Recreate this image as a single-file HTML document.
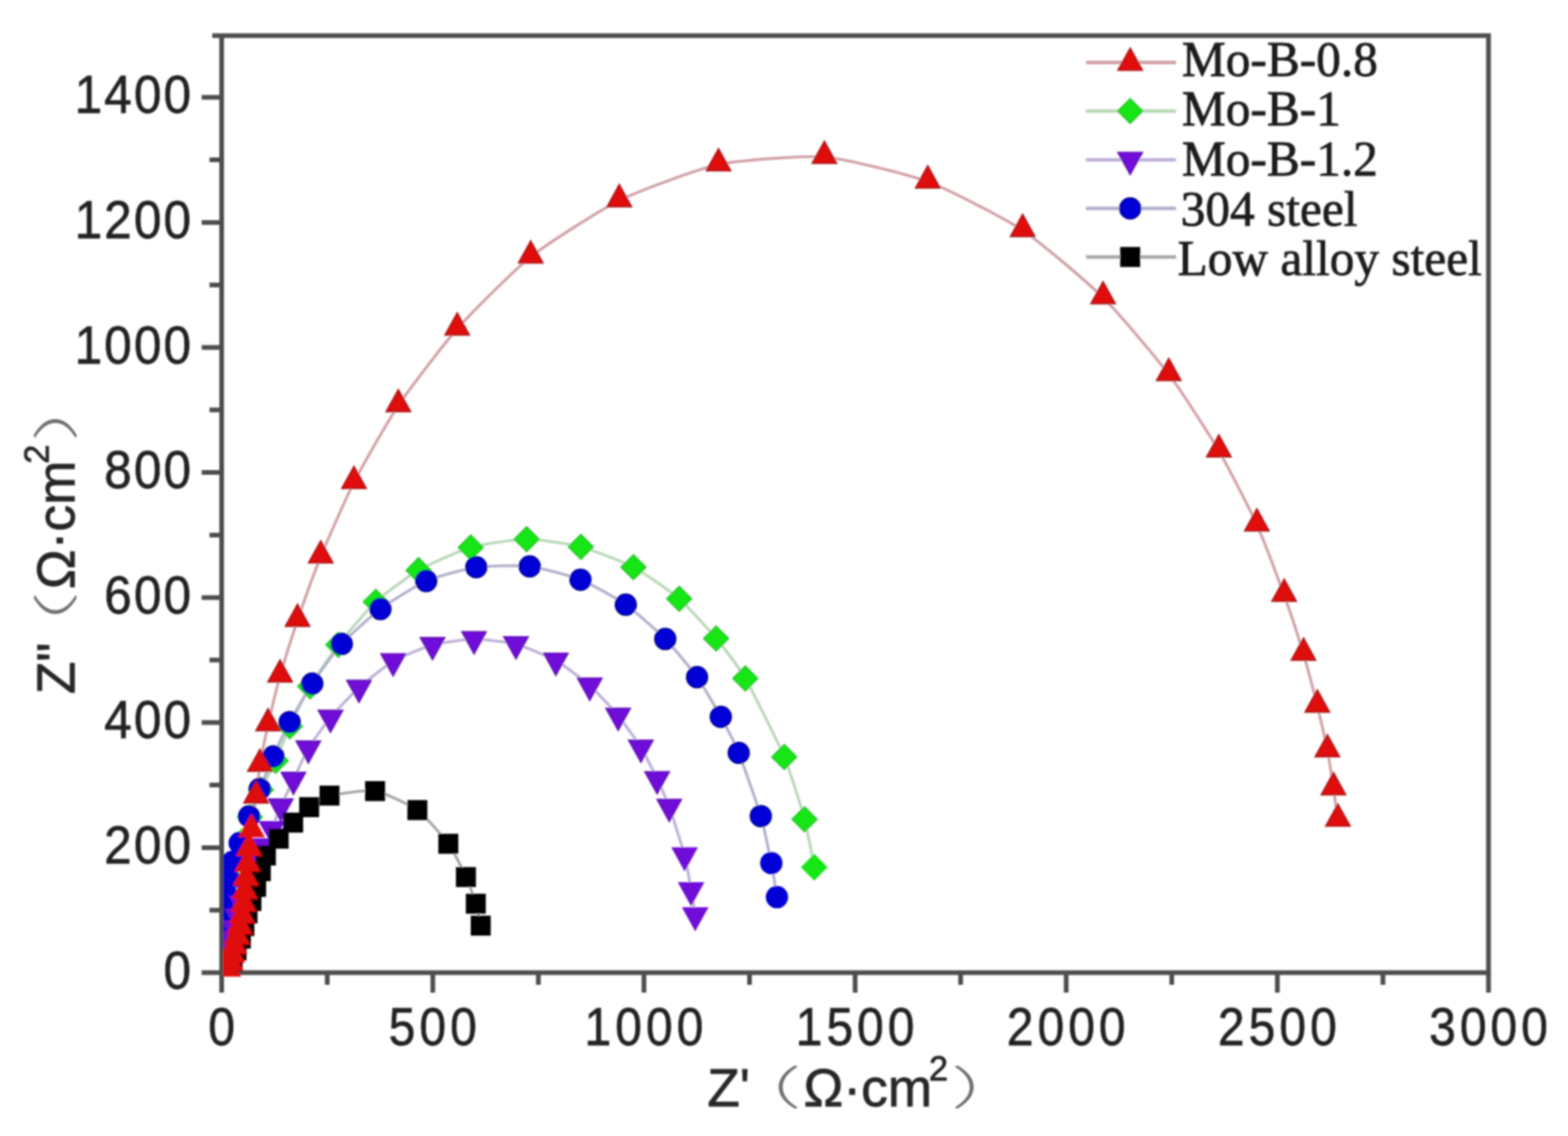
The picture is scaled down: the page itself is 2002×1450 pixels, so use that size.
<!DOCTYPE html>
<html><head><meta charset="utf-8"><title>Nyquist plot</title>
<style>html,body{margin:0;padding:0;background:#fff;width:2002px;height:1450px;overflow:hidden}svg{display:block}</style>
</head><body><svg width="2002" height="1450" viewBox="0 0 2002 1450"><defs><clipPath id="pc"><rect x="285.0" y="0" width="2002" height="1246.5"/></clipPath><filter id="bl" x="0" y="0" width="2002" height="1450" filterUnits="userSpaceOnUse"><feGaussianBlur stdDeviation="1.3"/></filter></defs><rect x="0" y="0" width="2002" height="1450" fill="#fff"/><g filter="url(#bl)"><path d="M283.0 1241.5H1900.5V45.5H271.0M283.0 43.5V1241.5" fill="none" stroke="#4d4d4d" stroke-width="6"/><path d="M257.5 1241.5H283.0M267.5 1161.7H283.0M257.5 1081.9H283.0M267.5 1002.1H283.0M257.5 922.3H283.0M267.5 842.5H283.0M257.5 762.7H283.0M267.5 682.9H283.0M257.5 603.1H283.0M267.5 523.3H283.0M257.5 443.5H283.0M267.5 363.7H283.0M257.5 283.9H283.0M267.5 204.1H283.0M257.5 124.3H283.0M283.0 1241.5V1267.0M417.8 1241.5V1257.0M552.6 1241.5V1267.0M687.4 1241.5V1257.0M822.2 1241.5V1267.0M957.0 1241.5V1257.0M1091.8 1241.5V1267.0M1226.5 1241.5V1257.0M1361.3 1241.5V1267.0M1496.1 1241.5V1257.0M1630.9 1241.5V1267.0M1765.7 1241.5V1257.0M1900.5 1241.5V1267.0" stroke="#4d4d4d" stroke-width="6" fill="none"/><g clip-path="url(#pc)"><path d="M285.0 1225.0C285.1 1223.3 286.1 1211.7 286.5 1208.0C286.9 1204.3 288.1 1192.2 288.5 1188.0C288.9 1183.8 290.4 1170.4 291.0 1166.0C291.6 1161.6 293.4 1148.4 294.0 1144.0C294.6 1139.6 296.7 1126.5 297.5 1122.0C298.3 1117.5 300.9 1103.8 302.0 1099.0C303.1 1094.2 307.3 1079.6 309.0 1074.0C310.7 1068.4 316.6 1049.6 319.0 1043.0C321.4 1036.4 329.7 1015.2 333.0 1008.0C336.3 1000.8 348.3 979.1 352.0 971.0C355.7 962.9 365.6 936.5 370.0 927.0C374.4 917.5 389.8 886.4 396.0 876.0C402.2 865.6 423.6 833.8 432.0 823.0C440.4 812.2 469.6 777.7 479.8 768.2C490.0 758.7 522.3 734.9 534.4 727.9C546.5 720.9 587.2 702.7 601.0 698.7C614.8 694.7 658.3 688.4 672.4 688.3C686.5 688.2 728.0 694.4 741.6 698.0C755.2 701.6 796.2 717.4 808.8 724.0C821.4 730.6 856.7 755.2 867.2 764.3C877.8 773.4 905.9 804.8 914.3 815.0C922.7 825.2 942.9 850.9 951.6 866.0C960.3 881.1 993.7 948.2 1001.3 966.2C1008.9 984.2 1023.4 1031.7 1027.2 1045.8C1031.0 1059.9 1038.4 1100.8 1039.6 1106.9" fill="none" stroke="#b8d8b8" stroke-width="3.6" stroke-linejoin="round"/><path d="M283.0 1222.0C283.1 1220.3 283.3 1208.7 283.5 1205.0C283.7 1201.3 284.6 1189.2 285.0 1185.0C285.4 1180.8 286.6 1167.3 287.0 1163.0C287.4 1158.7 288.9 1146.1 289.5 1142.0C290.1 1137.9 291.8 1126.2 292.5 1122.0C293.2 1117.8 295.6 1104.6 297.0 1100.0C298.4 1095.4 303.9 1081.8 306.0 1076.0C308.1 1070.2 315.4 1048.9 318.0 1042.0C320.6 1035.1 328.5 1014.6 331.6 1007.0C334.7 999.4 345.2 974.0 349.0 965.5C352.8 957.0 364.8 931.0 369.8 921.7C374.8 912.4 392.0 882.5 398.7 872.5C405.4 862.5 427.7 831.3 436.4 821.8C445.1 812.3 474.9 785.3 485.7 777.3C496.5 769.3 532.0 746.9 544.2 741.6C556.4 736.3 594.9 725.9 608.1 724.0C621.3 722.1 663.0 721.4 676.3 723.0C689.6 724.6 728.9 735.1 741.2 740.0C753.5 744.9 788.2 764.2 799.0 771.8C809.8 779.4 840.3 806.4 849.4 815.6C858.5 824.9 882.9 854.4 890.0 864.3C897.1 874.2 915.0 905.3 920.3 915.0C925.6 924.7 938.1 948.3 943.2 961.0C948.3 973.7 967.2 1027.6 971.4 1041.7C975.6 1055.8 982.7 1091.4 984.8 1101.7C986.9 1112.0 991.3 1140.8 992.0 1145.1" fill="none" stroke="#b0b0cc" stroke-width="3.6" stroke-linejoin="round"/><path d="M291.0 1221.2C291.2 1220.2 292.5 1212.5 293.0 1210.2C293.5 1208.0 295.3 1200.8 296.0 1198.2C296.7 1195.8 299.2 1188.0 300.0 1185.2C300.8 1182.5 303.1 1173.5 304.0 1170.2C304.9 1167.0 307.9 1156.8 309.0 1153.2C310.1 1149.8 313.7 1138.8 315.0 1135.2C316.3 1131.7 320.5 1120.8 322.0 1117.2C323.5 1113.7 328.4 1103.0 330.0 1099.2C331.6 1095.5 336.3 1084.3 338.0 1080.2C339.7 1076.2 344.9 1063.3 347.0 1058.2C349.1 1053.2 355.7 1035.5 358.5 1029.2C361.3 1023.0 371.2 1002.6 374.7 995.2C378.2 987.9 389.0 963.2 393.7 955.2C398.4 947.3 415.5 923.6 422.0 915.9C428.5 908.1 450.3 884.9 458.3 877.8C466.3 870.6 492.6 849.4 502.0 844.0C511.4 838.5 542.0 826.1 552.3 823.2C562.6 820.4 594.6 815.9 605.2 815.8C615.9 815.6 648.3 819.5 658.8 822.2C669.2 825.0 700.3 838.0 709.7 843.2C719.1 848.5 745.0 868.1 753.0 875.1C761.0 882.2 782.8 905.6 789.3 913.5C795.8 921.5 813.3 946.1 818.3 954.2C823.3 962.4 835.4 987.0 839.0 994.5C842.6 1002.1 851.0 1020.0 854.5 1029.8C858.0 1039.5 871.3 1081.1 874.1 1091.8C876.9 1102.4 881.0 1128.6 882.4 1136.2C883.8 1143.9 887.1 1165.0 887.6 1168.2" fill="none" stroke="#bfb0d8" stroke-width="3.6" stroke-linejoin="round"/><path d="M297.0 1227.0C297.5 1225.6 300.9 1215.9 302.0 1213.0C303.1 1210.1 306.5 1201.1 307.5 1198.0C308.5 1194.9 311.1 1185.2 312.0 1182.0C312.9 1178.8 315.1 1169.2 316.0 1166.0C316.9 1162.8 319.9 1153.4 321.0 1150.0C322.1 1146.6 325.8 1135.8 327.0 1132.0C328.2 1128.2 331.8 1116.0 333.0 1112.0C334.2 1108.0 337.2 1096.2 339.5 1092.0C341.8 1087.8 352.3 1074.7 355.8 1070.5C359.3 1066.3 370.4 1054.0 374.3 1050.0C378.2 1046.0 390.1 1033.7 394.7 1030.2C399.3 1026.8 412.3 1017.5 420.7 1015.5C429.1 1013.5 467.7 1007.9 478.9 1009.7C490.1 1011.6 523.5 1027.3 532.9 1034.0C542.2 1040.7 566.2 1068.6 572.4 1077.1C578.6 1085.6 591.4 1111.8 594.9 1119.4C598.4 1127.0 605.6 1147.3 607.5 1153.5C609.4 1159.7 613.2 1178.6 613.8 1181.4" fill="none" stroke="#a8a8a8" stroke-width="3.6" stroke-linejoin="round"/><path d="M292.0 1240.0C292.2 1239.0 293.6 1232.0 294.0 1230.0C294.4 1228.0 295.5 1222.1 296.0 1220.0C296.5 1217.9 298.4 1211.3 299.0 1209.0C299.6 1206.7 301.8 1199.5 302.5 1197.0C303.2 1194.5 305.4 1186.7 306.0 1184.0C306.6 1181.3 308.5 1172.9 309.0 1170.0C309.5 1167.1 310.6 1158.1 311.0 1155.0C311.4 1151.9 312.2 1142.3 312.5 1139.0C312.8 1135.7 313.6 1125.5 314.0 1122.0C314.4 1118.5 315.6 1107.8 316.0 1104.0C316.4 1100.2 317.5 1088.4 318.0 1084.0C318.5 1079.6 320.1 1066.7 321.0 1060.0C321.9 1053.3 325.9 1025.3 327.0 1017.0C328.1 1008.6 330.5 985.7 332.0 976.5C333.5 967.3 339.7 936.2 342.3 924.8C344.9 913.4 353.8 875.9 357.6 862.6C361.4 849.3 374.7 806.8 379.9 791.6C385.1 776.4 402.3 728.1 409.5 710.5C416.7 692.9 442.1 634.8 452.0 615.5C461.9 596.2 495.4 537.2 508.6 517.6C521.8 498.0 566.8 438.7 583.7 419.7C600.6 400.7 656.9 344.2 677.6 327.8C698.3 311.4 766.7 267.7 790.7 255.9C814.7 244.1 891.2 215.5 917.4 210.0C943.6 204.5 1025.9 198.3 1052.6 200.5C1079.3 202.7 1159.3 222.6 1184.6 231.9C1209.9 241.2 1283.3 279.1 1305.7 293.9C1328.1 308.7 1389.7 361.4 1408.4 379.8C1427.1 398.2 1477.5 458.1 1492.3 477.7C1507.1 497.2 1545.0 556.1 1556.2 575.3C1567.4 594.5 1596.4 651.3 1604.7 669.7C1613.0 688.1 1633.6 743.1 1639.6 759.6C1645.6 776.1 1660.1 820.6 1664.3 834.7C1668.5 848.8 1678.9 888.6 1681.9 900.9C1685.0 913.2 1692.7 947.5 1694.8 958.0C1696.9 968.5 1701.3 997.5 1702.6 1006.4C1703.9 1015.2 1707.6 1042.5 1708.2 1046.5" fill="none" stroke="#d2a0a6" stroke-width="3.6" stroke-linejoin="round"/><g fill="#14e614" stroke="#14e614" stroke-width="1.5"><path d="M285.0 1209.0L301.0 1225.0L285.0 1241.0L269.0 1225.0ZM286.5 1192.0L302.5 1208.0L286.5 1224.0L270.5 1208.0ZM288.5 1172.0L304.5 1188.0L288.5 1204.0L272.5 1188.0ZM291.0 1150.0L307.0 1166.0L291.0 1182.0L275.0 1166.0ZM294.0 1128.0L310.0 1144.0L294.0 1160.0L278.0 1144.0ZM297.5 1106.0L313.5 1122.0L297.5 1138.0L281.5 1122.0ZM302.0 1083.0L318.0 1099.0L302.0 1115.0L286.0 1099.0ZM309.0 1058.0L325.0 1074.0L309.0 1090.0L293.0 1074.0ZM1039.6 1090.9L1055.6 1106.9L1039.6 1122.9L1023.6 1106.9Z"/></g><g fill="#14e614" stroke="#2cbc2c" stroke-width="1.5"><path d="M319.0 1027.0L335.0 1043.0L319.0 1059.0L303.0 1043.0ZM333.0 992.0L349.0 1008.0L333.0 1024.0L317.0 1008.0ZM352.0 955.0L368.0 971.0L352.0 987.0L336.0 971.0ZM370.0 911.0L386.0 927.0L370.0 943.0L354.0 927.0ZM396.0 860.0L412.0 876.0L396.0 892.0L380.0 876.0ZM432.0 807.0L448.0 823.0L432.0 839.0L416.0 823.0ZM479.8 752.2L495.8 768.2L479.8 784.2L463.8 768.2ZM534.4 711.9L550.4 727.9L534.4 743.9L518.4 727.9ZM601.0 682.7L617.0 698.7L601.0 714.7L585.0 698.7ZM672.4 672.3L688.4 688.3L672.4 704.3L656.4 688.3ZM741.6 682.0L757.6 698.0L741.6 714.0L725.6 698.0ZM808.8 708.0L824.8 724.0L808.8 740.0L792.8 724.0ZM867.2 748.3L883.2 764.3L867.2 780.3L851.2 764.3ZM914.3 799.0L930.3 815.0L914.3 831.0L898.3 815.0ZM951.6 850.0L967.6 866.0L951.6 882.0L935.6 866.0ZM1001.3 950.2L1017.3 966.2L1001.3 982.2L985.3 966.2ZM1027.2 1029.8L1043.2 1045.8L1027.2 1061.8L1011.2 1045.8Z"/></g><g fill="#0606d6" stroke="#0606d6" stroke-width="1.5"><circle cx="283.0" cy="1222.0" r="13.5"/><circle cx="283.5" cy="1205.0" r="13.5"/><circle cx="285.0" cy="1185.0" r="13.5"/><circle cx="287.0" cy="1163.0" r="13.5"/><circle cx="289.5" cy="1142.0" r="13.5"/><circle cx="292.5" cy="1122.0" r="13.5"/><circle cx="297.0" cy="1100.0" r="13.5"/><circle cx="306.0" cy="1076.0" r="13.5"/><circle cx="984.8" cy="1101.7" r="13.5"/><circle cx="992.0" cy="1145.1" r="13.5"/></g><g fill="#0606d6" stroke="#000088" stroke-width="1.5"><circle cx="318.0" cy="1042.0" r="13.5"/><circle cx="331.6" cy="1007.0" r="13.5"/><circle cx="349.0" cy="965.5" r="13.5"/><circle cx="369.8" cy="921.7" r="13.5"/><circle cx="398.7" cy="872.5" r="13.5"/><circle cx="436.4" cy="821.8" r="13.5"/><circle cx="485.7" cy="777.3" r="13.5"/><circle cx="544.2" cy="741.6" r="13.5"/><circle cx="608.1" cy="724.0" r="13.5"/><circle cx="676.3" cy="723.0" r="13.5"/><circle cx="741.2" cy="740.0" r="13.5"/><circle cx="799.0" cy="771.8" r="13.5"/><circle cx="849.4" cy="815.6" r="13.5"/><circle cx="890.0" cy="864.3" r="13.5"/><circle cx="920.3" cy="915.0" r="13.5"/><circle cx="943.2" cy="961.0" r="13.5"/><circle cx="971.4" cy="1041.7" r="13.5"/></g><g fill="#7010d8" stroke="#7010d8" stroke-width="1.5"><path d="M291.0 1240.2L306.8 1211.8L275.2 1211.8ZM293.0 1229.2L308.8 1200.8L277.2 1200.8ZM296.0 1217.2L311.8 1188.8L280.2 1188.8ZM300.0 1204.2L315.8 1175.8L284.2 1175.8ZM304.0 1189.2L319.8 1160.8L288.2 1160.8ZM309.0 1172.2L324.8 1143.8L293.2 1143.8ZM315.0 1154.2L330.8 1125.8L299.2 1125.8ZM322.0 1136.2L337.8 1107.8L306.2 1107.8ZM330.0 1118.2L345.8 1089.8L314.2 1089.8ZM338.0 1099.2L353.8 1070.8L322.2 1070.8ZM347.0 1077.2L362.8 1048.8L331.2 1048.8ZM874.1 1110.8L889.9 1082.2L858.4 1082.2ZM882.4 1155.2L898.1 1126.8L866.6 1126.8ZM887.6 1187.2L903.4 1158.8L871.9 1158.8Z"/></g><g fill="#7010d8" stroke="#6010b0" stroke-width="1.5"><path d="M358.5 1048.2L374.2 1019.8L342.8 1019.8ZM374.7 1014.2L390.4 985.8L358.9 985.8ZM393.7 974.2L409.4 945.8L377.9 945.8ZM422.0 934.9L437.8 906.4L406.2 906.4ZM458.3 896.8L474.1 868.2L442.6 868.2ZM502.0 863.0L517.8 834.5L486.2 834.5ZM552.3 842.2L568.0 813.8L536.5 813.8ZM605.2 834.8L621.0 806.2L589.5 806.2ZM658.8 841.2L674.5 812.8L643.0 812.8ZM709.7 862.2L725.5 833.8L694.0 833.8ZM753.0 894.1L768.8 865.6L737.2 865.6ZM789.3 932.5L805.0 904.0L773.5 904.0ZM818.3 973.2L834.0 944.8L802.5 944.8ZM839.0 1013.5L854.8 985.0L823.2 985.0ZM854.5 1048.8L870.2 1020.2L838.8 1020.2Z"/></g><g fill="#000000" stroke="#000000" stroke-width="1.5"><path d="M285.0 1215.0h24v24h-24ZM290.0 1201.0h24v24h-24ZM295.5 1186.0h24v24h-24ZM300.0 1170.0h24v24h-24ZM304.0 1154.0h24v24h-24ZM309.0 1138.0h24v24h-24ZM315.0 1120.0h24v24h-24ZM321.0 1100.0h24v24h-24ZM327.5 1080.0h24v24h-24ZM343.8 1058.5h24v24h-24ZM560.4 1065.1h24v24h-24ZM582.9 1107.4h24v24h-24ZM595.5 1141.5h24v24h-24ZM601.8 1169.4h24v24h-24Z"/></g><g fill="#000000" stroke="#000000" stroke-width="1.5"><path d="M362.3 1038.0h24v24h-24ZM382.7 1018.2h24v24h-24ZM408.7 1003.5h24v24h-24ZM466.9 997.7h24v24h-24ZM520.9 1022.0h24v24h-24Z"/></g><g fill="#e00808" stroke="#e00808" stroke-width="1.5"><path d="M292.0 1219.5L307.8 1248.0L276.2 1248.0ZM294.0 1209.5L309.8 1238.0L278.2 1238.0ZM296.0 1199.5L311.8 1228.0L280.2 1228.0ZM299.0 1188.5L314.8 1217.0L283.2 1217.0ZM302.5 1176.5L318.2 1205.0L286.8 1205.0ZM306.0 1163.5L321.8 1192.0L290.2 1192.0ZM309.0 1149.5L324.8 1178.0L293.2 1178.0ZM311.0 1134.5L326.8 1163.0L295.2 1163.0ZM312.5 1118.5L328.2 1147.0L296.8 1147.0ZM314.0 1101.5L329.8 1130.0L298.2 1130.0ZM316.0 1083.5L331.8 1112.0L300.2 1112.0ZM318.0 1063.5L333.8 1092.0L302.2 1092.0ZM321.0 1039.5L336.8 1068.0L305.2 1068.0Z"/></g><g fill="#e00808" stroke="#a01010" stroke-width="1.5"><path d="M327.0 996.5L342.8 1025.0L311.2 1025.0ZM332.0 956.0L347.8 984.5L316.2 984.5ZM342.3 904.3L358.1 932.8L326.6 932.8ZM357.6 842.1L373.4 870.6L341.9 870.6ZM379.9 771.1L395.6 799.6L364.1 799.6ZM409.5 690.0L425.2 718.5L393.8 718.5ZM452.0 595.0L467.8 623.5L436.2 623.5ZM508.6 497.1L524.4 525.6L492.9 525.6ZM583.7 399.2L599.5 427.7L568.0 427.7ZM677.6 307.3L693.4 335.8L661.9 335.8ZM790.7 235.4L806.5 263.9L775.0 263.9ZM917.4 189.5L933.1 218.0L901.6 218.0ZM1052.6 180.0L1068.3 208.5L1036.8 208.5ZM1184.6 211.4L1200.3 239.9L1168.8 239.9ZM1305.7 273.4L1321.5 301.9L1290.0 301.9ZM1408.4 359.3L1424.2 387.8L1392.7 387.8ZM1492.3 457.2L1508.0 485.7L1476.5 485.7ZM1556.2 554.8L1572.0 583.3L1540.5 583.3ZM1604.7 649.2L1620.5 677.7L1589.0 677.7ZM1639.6 739.1L1655.3 767.6L1623.8 767.6ZM1664.3 814.2L1680.0 842.7L1648.5 842.7ZM1681.9 880.4L1697.7 908.9L1666.2 908.9ZM1694.8 937.5L1710.5 966.0L1679.0 966.0ZM1702.6 985.9L1718.3 1014.4L1686.8 1014.4ZM1708.2 1026.0L1724.0 1054.5L1692.5 1054.5Z"/></g></g><g font-family="'Liberation Sans', Arial, sans-serif" fill="#222" stroke="#222" stroke-width="0.8"><g transform="translate(0 1261.5) scale(0.93 1)"><text x="243.33" y="0" text-anchor="middle" font-size="68">0</text></g><g transform="translate(0 1101.9) scale(0.93 1)"><text x="162.04 202.69 243.33" y="0" text-anchor="middle" font-size="68">200</text></g><g transform="translate(0 942.3) scale(0.93 1)"><text x="162.04 202.69 243.33" y="0" text-anchor="middle" font-size="68">400</text></g><g transform="translate(0 782.7) scale(0.93 1)"><text x="162.04 202.69 243.33" y="0" text-anchor="middle" font-size="68">600</text></g><g transform="translate(0 623.1) scale(0.93 1)"><text x="162.04 202.69 243.33" y="0" text-anchor="middle" font-size="68">800</text></g><g transform="translate(0 463.5) scale(0.93 1)"><text x="121.40 162.04 202.69 243.33" y="0" text-anchor="middle" font-size="68">1000</text></g><g transform="translate(0 303.9) scale(0.93 1)"><text x="121.40 162.04 202.69 243.33" y="0" text-anchor="middle" font-size="68">1200</text></g><g transform="translate(0 144.3) scale(0.93 1)"><text x="121.40 162.04 202.69 243.33" y="0" text-anchor="middle" font-size="68">1400</text></g><g transform="translate(0 1333.5) scale(0.9 1)"><text x="314.44" y="0" text-anchor="middle" font-size="68">0</text></g><g transform="translate(0 1333.5) scale(0.9 1)"><text x="570.43 613.98 657.54" y="0" text-anchor="middle" font-size="68">500</text></g><g transform="translate(0 1333.5) scale(0.9 1)"><text x="848.19 891.74 935.30 978.85" y="0" text-anchor="middle" font-size="68">1000</text></g><g transform="translate(0 1333.5) scale(0.9 1)"><text x="1147.72 1191.28 1234.83 1278.39" y="0" text-anchor="middle" font-size="68">1500</text></g><g transform="translate(0 1333.5) scale(0.9 1)"><text x="1447.26 1490.81 1534.37 1577.93" y="0" text-anchor="middle" font-size="68">2000</text></g><g transform="translate(0 1333.5) scale(0.9 1)"><text x="1746.80 1790.35 1833.91 1877.46" y="0" text-anchor="middle" font-size="68">2500</text></g><g transform="translate(0 1333.5) scale(0.9 1)"><text x="2046.33 2089.89 2133.44 2177.00" y="0" text-anchor="middle" font-size="68">3000</text></g></g><g font-family="'Liberation Sans', Arial, sans-serif" fill="#262626" stroke="#262626" stroke-width="0.9" transform="translate(0 1412)"><text x="903" y="0" font-size="68">Z'</text><text transform="translate(921.5 -2.3) scale(1.5 0.857)" font-family="Noto Sans CJK SC, sans-serif" font-weight="300" font-size="68" fill="#707070" stroke="none">（</text><text x="1026" y="0" font-size="68">Ω·cm</text><text x="1186" y="-33" font-size="44">2</text><text transform="translate(1214 -2.3) scale(1.5 0.857)" font-family="Noto Sans CJK SC, sans-serif" font-weight="300" font-size="68" fill="#707070" stroke="none">）</text></g><g font-family="'Liberation Sans', Arial, sans-serif" fill="#262626" stroke="#262626" stroke-width="0.9" transform="translate(95 886) rotate(-90)"><text x="0" y="0" font-size="68">Z"</text><text transform="translate(29.5 -2.3) scale(1.5 0.857)" font-family="Noto Sans CJK SC, sans-serif" font-weight="300" font-size="68" fill="#707070" stroke="none">（</text><text x="134" y="0" font-size="68">Ω·cm</text><text x="294" y="-33" font-size="44">2</text><text transform="translate(322 -2.3) scale(1.5 0.857)" font-family="Noto Sans CJK SC, sans-serif" font-weight="300" font-size="68" fill="#707070" stroke="none">）</text></g><line x1="1386.5" y1="79.7" x2="1501.5" y2="79.7" stroke="#d2a0a6" stroke-width="4.5"/><g fill="#e00808" stroke="#a01010" stroke-width="1.5"><path d="M1443.0 61.2L1458.8 89.7L1427.2 89.7Z"/></g><text x="1509" y="96.8" font-family="'Liberation Serif', 'Times New Roman', serif" font-size="63" fill="#1a1a1a" stroke="#1a1a1a" stroke-width="0.9">Mo-B-0.8</text><line x1="1386.5" y1="141.8" x2="1501.5" y2="141.8" stroke="#b8d8b8" stroke-width="4.5"/><g fill="#14e614" stroke="#2cbc2c" stroke-width="1.5"><path d="M1443.0 125.8L1459.0 141.8L1443.0 157.8L1427.0 141.8Z"/></g><text x="1509" y="160.4" font-family="'Liberation Serif', 'Times New Roman', serif" font-size="63" fill="#1a1a1a" stroke="#1a1a1a" stroke-width="0.9">Mo-B-1</text><line x1="1386.5" y1="203.9" x2="1501.5" y2="203.9" stroke="#bfb0d8" stroke-width="4.5"/><g fill="#7010d8" stroke="#6010b0" stroke-width="1.5"><path d="M1443.0 222.9L1458.8 194.4L1427.2 194.4Z"/></g><text x="1509" y="224.0" font-family="'Liberation Serif', 'Times New Roman', serif" font-size="63" fill="#1a1a1a" stroke="#1a1a1a" stroke-width="0.9">Mo-B-1.2</text><line x1="1386.5" y1="266.0" x2="1501.5" y2="266.0" stroke="#b0b0cc" stroke-width="4.5"/><g fill="#0606d6" stroke="#000088" stroke-width="1.5"><circle cx="1443.0" cy="266.0" r="13.5"/></g><text x="1507.5" y="287.6" font-family="'Liberation Serif', 'Times New Roman', serif" font-size="63" fill="#1a1a1a" stroke="#1a1a1a" stroke-width="0.9">304 steel</text><line x1="1386.5" y1="328.1" x2="1501.5" y2="328.1" stroke="#a8a8a8" stroke-width="4.5"/><g fill="#000000" stroke="#000000" stroke-width="1.5"><path d="M1431.0 316.1h24v24h-24Z"/></g><text x="1503.5" y="351.2" font-family="'Liberation Serif', 'Times New Roman', serif" font-size="63" fill="#1a1a1a" stroke="#1a1a1a" stroke-width="0.9">Low alloy steel</text></g></svg></body></html>
